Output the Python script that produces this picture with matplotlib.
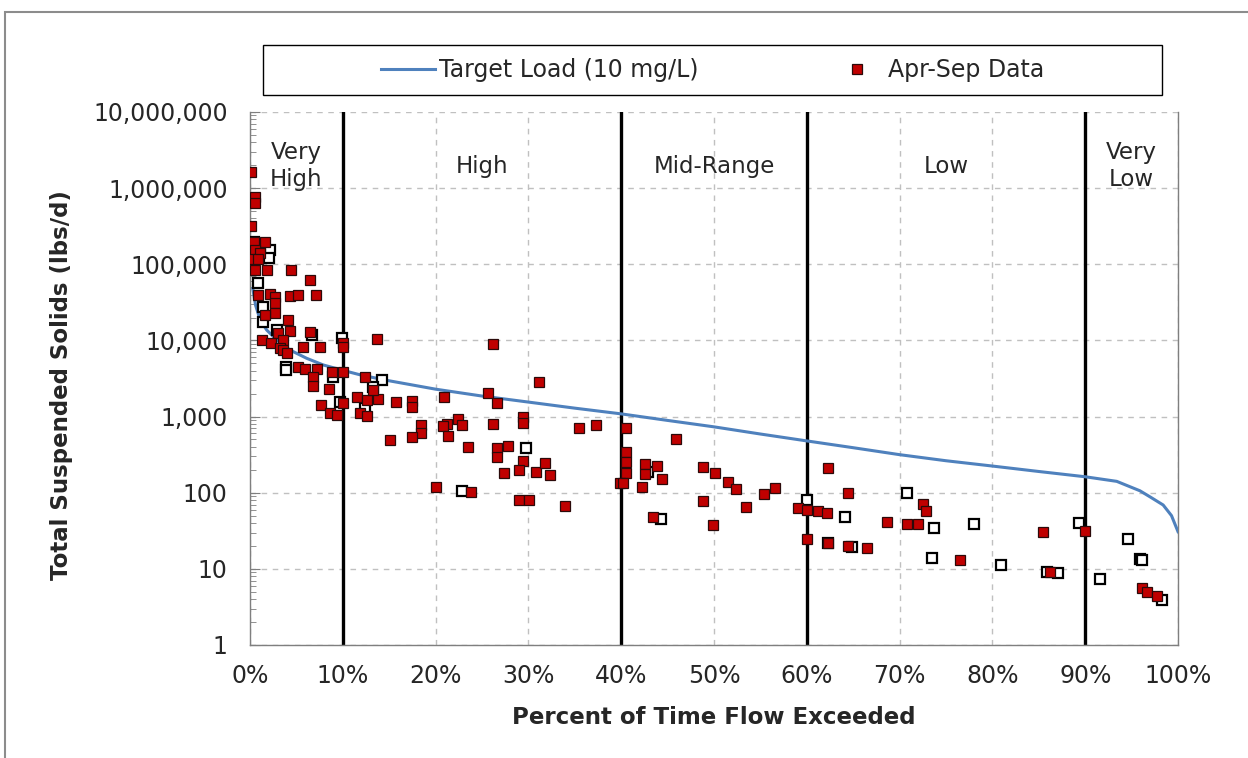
import matplotlib.pyplot as plt
from matplotlib.lines import Line2D
from matplotlib.patches import Rectangle
from matplotlib.ticker import FuncFormatter, LogLocator

# target load curve (10 mg/L) along the flow duration curve
target_pct = [0.3, 0.6, 1.1, 1.8, 2.9, 4.3, 6.1, 7.9, 10, 12, 15, 20, 25, 30, 35, 40, 45, 50,
              55, 60, 65, 70, 75, 80, 85, 90, 93.4, 95.9, 97, 98.4, 99.3, 100]
target_load = [48000, 29000, 18500, 13700, 10100, 7490, 5830, 4760, 4050, 3500, 2950, 2290,
               1860, 1550, 1290, 1085, 890, 733, 590, 479, 390, 316, 263, 224, 190, 162,
               141, 106, 88, 69, 50, 30.8]

# Apr-Sep samples (filled)
apr_sep_pct = [0.1, 0.5, 0.5, 0.1, 0.4, 1.6, 0.5, 1.1, 0.05, 0.9,
               0.5, 1.8, 4.4, 6.5, 0.9, 2.2, 2.7, 4.3, 5.2, 7.1,
               2.7, 2.7, 1.6, 4.1, 3.05, 4.3, 6.5, 1.3, 2.3, 3.6,
               10.0, 10.0, 5.7, 7.5, 3.2, 3.6, 3.95, 5.2, 5.9, 7.2,
               6.8, 6.8, 8.8, 10.05, 8.55, 7.7, 10.05, 8.6, 9.4, 11.5,
               11.85, 12.4, 12.6, 13.8, 12.6, 13.65, 13.3, 15.7, 17.5, 17.5,
               18.4, 18.4, 17.5, 15.1, 20.9, 21.2, 20.8, 22.4, 22.8, 21.3,
               23.5, 20.0, 23.8, 25.6, 26.15, 26.6, 26.15, 26.6, 26.6, 27.8,
               29.4, 29.4, 29.4, 28.95, 27.4, 30.8, 31.8, 32.3, 29.0, 30.1,
               31.1, 33.9, 35.4, 37.25, 40.5, 40.5, 40.5, 40.5, 39.9, 40.2,
               42.2, 42.6, 43.9, 42.6, 44.4, 43.4, 45.9, 48.85, 50.1, 51.5,
               52.4, 48.85, 49.9, 53.5, 55.4, 56.6, 59.0, 60.05, 61.2, 62.2,
               62.3, 64.4, 60.05, 62.3, 64.4, 66.45, 68.6, 70.8, 72.0, 72.5,
               72.8, 76.5, 85.5, 86.2, 90.0, 96.1, 96.7, 97.7]
apr_sep_tss = [1640000, 766000, 638000, 318000, 198000, 198000, 154000, 139000, 116000, 116000,
               84000, 84000, 84000, 62200, 39500, 40700, 37500, 38300, 39500, 40100,
               30700, 22700, 21600, 18500, 12400, 13400, 13000, 10100, 9170, 10100,
               9170, 8280, 8280, 8280, 7890, 7490, 6780, 4520, 4180, 4180,
               3340, 2520, 3880, 3880, 2280, 1420, 1490, 1100, 1050, 1820,
               1100, 3340, 1650, 1700, 1020, 10300, 2230, 1540, 1600, 1320,
               768, 603, 534, 492, 1820, 799, 752, 938, 768, 556,
               402, 118, 102, 2060, 8890, 1490, 799, 383, 297, 411,
               996, 831, 263, 199, 180, 187, 243, 172, 80, 80,
               2870, 67.6, 714, 775, 714, 340, 255, 180, 133, 133,
               120, 238, 224, 176, 150, 48.4, 512, 216, 180, 138,
               111, 78.6, 37.3, 65.5, 95.3, 114, 63, 59.3, 57, 53.7,
               209, 98.2, 24.7, 22.1, 20.1, 19.0, 41.6, 38.8, 38.8, 70.5,
               58, 13.1, 30.8, 9.0, 31.7, 5.55, 4.97, 4.4]

# Oct-Mar samples (open, not in legend)
oct_mar_pct = [0.0, 0.4, 2.2, 2.0, 0.9, 1.4, 1.4, 2.9, 6.65, 9.9,
               3.9, 3.9, 8.9, 9.7, 12.4, 14.2, 13.3, 22.85, 29.75, 42.9,
               44.25, 60.05, 64.1, 62.3, 64.9, 70.8, 73.7, 78.0, 73.5, 80.9,
               85.85, 87.1, 89.3, 91.6, 94.6, 95.9, 96.1, 98.3]
oct_mar_tss = [162000, 198000, 154000, 120000, 56300, 27700, 17600, 13700, 11800, 10700,
               4520, 4090, 3340, 1570, 1280, 3020, 2470, 106, 383, 189,
               44.8, 80.2, 48.4, 22.1, 19.5, 100, 34.4, 38.5, 14.0, 11.2,
               9.18, 8.74, 40.4, 7.36, 24.4, 13.5, 13.1, 3.9]

zone_breaks = [10, 40, 60, 90]
zone_names = ["Very\nHigh", "High", "Mid-Range", "Low", "Very\nLow"]
zone_centers = [5, 25, 50, 75, 95]

plt.rcParams["font.family"] = "DejaVu Sans"
W, H = 1248, 758
fig = plt.figure(figsize=(W / 100, H / 100), dpi=100)
ax = fig.add_axes([250 / W, 1 - 645 / H, 928 / W, 533 / H])

ax.set_yscale("log")
ax.set_xlim(0, 100)
ax.set_ylim(1, 1e7)

ax.grid(True, which="major", ls=(0, (4, 4)), color="#c0c0c0", lw=1)
ax.set_axisbelow(True)

for b in zone_breaks:
    ax.axvline(b, color="black", lw=2.4, zorder=2)

line_h, = ax.plot(target_pct, target_load, color="#4F81BD", lw=2.2, zorder=3)
ax.plot(oct_mar_pct, oct_mar_tss, ls="none", marker="s", mfc="white", mec="black",
        ms=7.8, mew=1.6, zorder=4)
ax.plot(apr_sep_pct, apr_sep_tss, ls="none", marker="s", mfc="#C00000", mec="#2b0a0a",
        ms=7.6, mew=0.9, zorder=5)

for name, xc in zip(zone_names, zone_centers):
    ax.text(xc, 1.95e6, name, ha="center", va="center", fontsize=16.5, color="#262626")

ax.set_xticks(range(0, 101, 10))
ax.set_xticklabels([f"{v}%" for v in range(0, 101, 10)])
ax.yaxis.set_major_locator(LogLocator(base=10, numticks=10))
ax.yaxis.set_minor_locator(LogLocator(base=10, subs=range(2, 10), numticks=10))
ax.yaxis.set_major_formatter(FuncFormatter(lambda v, _: f"{v:,.0f}"))
ax.tick_params(axis="x", length=0, pad=14, labelsize=17, labelcolor="#262626")
ax.tick_params(axis="y", which="both", direction="in", color="#7f7f7f", pad=16,
               labelsize=17, labelcolor="#262626")
ax.tick_params(axis="y", which="major", length=7)
ax.tick_params(axis="y", which="minor", length=4)

ax.spines["top"].set_visible(False)
for s in ["left", "bottom", "right"]:
    ax.spines[s].set_color("#7f7f7f")
    ax.spines[s].set_linewidth(1)

fig.text(714 / W, 1 - 718 / H, "Percent of Time Flow Exceeded", ha="center", va="center",
         fontsize=16.5, fontweight="bold", color="#262626")
fig.text(62 / W, 1 - 385 / H, "Total Suspended Solids (lbs/d)", ha="center", va="center",
         rotation=90, fontsize=16.5, fontweight="bold", color="#262626")

# legend
red_proxy = Line2D([], [], ls="none", marker="s", mfc="#C00000", mec="#2b0a0a", ms=7, mew=0.9)
fig.legend([line_h, red_proxy], ["Target Load (10 mg/L)", "Apr-Sep Data"],
           loc="center", bbox_to_anchor=((263 + 1162) / 2 / W, 1 - 70 / H), ncol=2,
           frameon=False, fontsize=17, handlelength=2.3, handletextpad=0.15,
           columnspacing=5.6, labelcolor="#262626")
fig.add_artist(Rectangle((263 / W, 1 - 95 / H), 899 / W, 50 / H, transform=fig.transFigure,
                         fill=False, ec="black", lw=1))
fig.add_artist(Rectangle((5 / W, -0.1), 1.2, 1 - 12 / H + 0.1, transform=fig.transFigure,
                         fill=False, ec="#8c8c8c", lw=1.5))

fig.savefig("out.png", dpi=100)
